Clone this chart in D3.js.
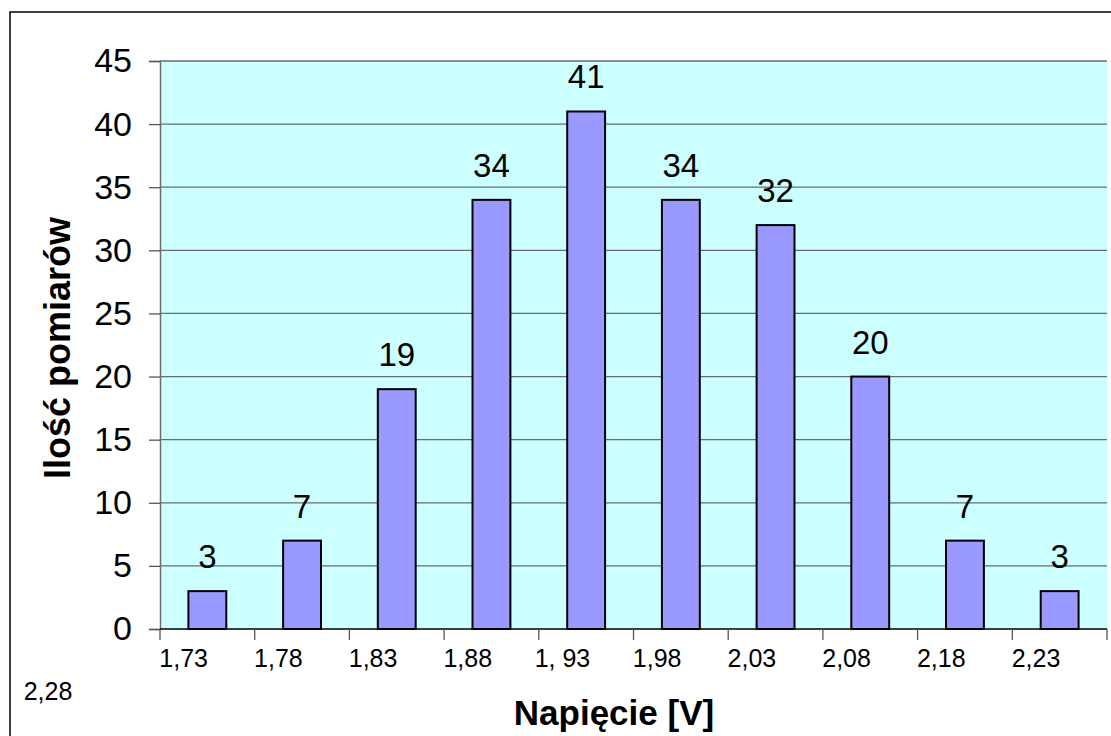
<!DOCTYPE html>
<html>
<head>
<meta charset="utf-8">
<script src="https://cdn.jsdelivr.net/npm/d3@7"></script>
<style>
  html, body { margin: 0; padding: 0; background: #fff; }
  svg { display: block; font-family: "Liberation Sans", Arial, Helvetica, sans-serif; }
</style>
</head>
<body>
<svg id="chart" width="1111" height="736"></svg>
<script>
// ---- data ----
const categories = ["1,73-1,78","1,78-1,83","1,83-1,88","1,88-1,93","1,93-1,98",
                    "1,98-2,03","2,03-2,08","2,08-2,18","2,18-2,23","2,23-2,28"];
const values = [3, 7, 19, 34, 41, 34, 32, 20, 7, 3];
const xTickLabels = ["1,73","1,78","1,83","1,88","1, 93","1,98","2,03","2,08","2,18","2,23","2,28"];
const yTicks = [0, 5, 10, 15, 20, 25, 30, 35, 40, 45];
const xTitle = "Napięcie [V]";
const yTitle = "Ilość pomiarów";

// ---- layout ----
const W = 1111, H = 736;
const plot = { left: 160, right: 1107, top: 61, bottom: 629 };
const svg = d3.select("#chart");

// outer frame
svg.append("rect")
  .attr("x", 10).attr("y", 12)
  .attr("width", W + 20).attr("height", H + 20)
  .attr("fill", "#fff").attr("stroke", "#000").attr("stroke-width", 1.5);

const x = d3.scaleBand()
  .domain(categories)
  .range([plot.left, plot.right])
  .paddingInner(0.6)
  .paddingOuter(0.3);

const y = d3.scaleLinear()
  .domain([0, 45])
  .range([plot.bottom, plot.top]);

// plot background
svg.append("rect")
  .attr("x", plot.left).attr("y", plot.top)
  .attr("width", plot.right - plot.left).attr("height", plot.bottom - plot.top)
  .attr("fill", "#CCFFFF");

// gridlines
svg.append("g")
  .selectAll("line")
  .data(yTicks.filter(d => d > 0))
  .join("line")
  .attr("x1", plot.left).attr("x2", plot.right)
  .attr("y1", d => y(d)).attr("y2", d => y(d))
  .attr("stroke", "#6b6b6b").attr("stroke-width", 1.3);

// y axis
const yAxis = d3.axisLeft(y).tickValues(yTicks).tickSize(11).tickPadding(17);
const gy = svg.append("g").attr("transform", `translate(${plot.left},0)`).call(yAxis);
gy.select(".domain").attr("stroke", "#6b6b6b").attr("stroke-width", 1.5);
gy.selectAll(".tick line").attr("stroke", "#555").attr("stroke-width", 1.3);
gy.selectAll(".tick text")
  .attr("font-size", 34).attr("fill", "#000")
  .attr("font-family", "'Liberation Sans', Arial, sans-serif");

// bars
svg.append("g")
  .selectAll("rect")
  .data(values)
  .join("rect")
  .attr("x", (d, i) => x(categories[i]))
  .attr("y", d => y(d))
  .attr("width", x.bandwidth())
  .attr("height", d => y(0) - y(d))
  .attr("fill", "#9999FF")
  .attr("stroke", "#000")
  .attr("stroke-width", 2);

// value labels
svg.append("g")
  .selectAll("text")
  .data(values)
  .join("text")
  .attr("x", (d, i) => x(categories[i]) + x.bandwidth() / 2)
  .attr("y", d => y(d) - 23)
  .attr("text-anchor", "middle")
  .attr("font-size", 33)
  .attr("fill", "#000")
  .text(d => d);

// x axis line
svg.append("line")
  .attr("x1", plot.left).attr("x2", plot.right)
  .attr("y1", y(0)).attr("y2", y(0))
  .attr("stroke", "#000").attr("stroke-width", 1.5);

// x ticks at category boundaries
const step = x.step();
const boundaries = d3.range(categories.length + 1).map(i => plot.left + i * step);
svg.append("g")
  .selectAll("line")
  .data(boundaries)
  .join("line")
  .attr("x1", d => d).attr("x2", d => d)
  .attr("y1", y(0)).attr("y2", y(0) + 11)
  .attr("stroke", "#555").attr("stroke-width", 1.3);

// x tick labels (first 10 along the axis, the last one wrapped to the next line)
svg.append("g")
  .selectAll("text")
  .data(xTickLabels.slice(0, categories.length))
  .join("text")
  .attr("x", (d, i) => boundaries[i] + step * 0.25)
  .attr("y", 667)
  .attr("text-anchor", "middle")
  .attr("font-size", 25)
  .attr("fill", "#000")
  .text(d => d);

svg.append("text")
  .attr("x", 48)
  .attr("y", 700)
  .attr("text-anchor", "middle")
  .attr("font-size", 25)
  .attr("fill", "#000")
  .text(xTickLabels[xTickLabels.length - 1]);

// axis titles
svg.append("text")
  .attr("x", 614)
  .attr("y", 725)
  .attr("text-anchor", "middle")
  .attr("font-size", 35)
  .attr("font-weight", "bold")
  .attr("fill", "#000")
  .text(xTitle);

svg.append("text")
  .attr("transform", "translate(70,348) rotate(-90)")
  .attr("text-anchor", "middle")
  .attr("font-size", 36)
  .attr("font-weight", "bold")
  .attr("fill", "#000")
  .text(yTitle);
</script>
</body>
</html>
